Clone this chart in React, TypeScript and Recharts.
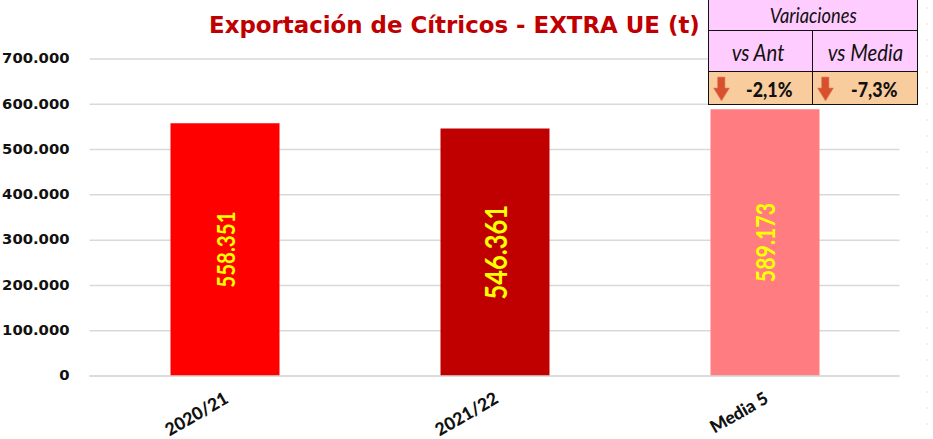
import { BarChart, Bar, CartesianGrid, Cell, LabelList, XAxis, YAxis } from "recharts";

const categories = ["2020/21", "2021/22", "Media 5"];
const values = [558351, 546361, 589173];
const barColors = ["#ff0000", "#c00000", "#ff7c80"];
const labelSizes = [25, 31, 26];
const yTicks = [0, 100000, 200000, 300000, 400000, 500000, 600000, 700000];
const variations = ["-2,1%", "-7,3%"];

const chartData = categories.map((name, i) => ({ name, value: values[i] }));

const fmt = (v: number) => v.toLocaleString("de-DE");

const AngledTick = ({ x, y, payload }: any) => (
  <text
    x={x + 5}
    y={y + 18}
    transform={`rotate(-30 ${x + 5} ${y + 18})`}
    textAnchor="end"
    fontFamily="Lato, sans-serif"
    fontWeight={900}
    fontSize={17.5}
    fill="#111"
  >
    {payload.value}
  </text>
);

const BarValue = ({ x, y, width, height, value, index }: any) => {
  const cx = x + width / 2;
  const cy = y + height / 2;
  return (
    <text
      transform={`translate(${cx} ${cy}) rotate(-90) scale(0.82 1)`}
      textAnchor="middle"
      dominantBaseline="central"
      fontFamily="Lato, sans-serif"
      fontWeight={700}
      fontSize={labelSizes[index]}
      fill="#ffff00"
    >
      {fmt(value)}
    </text>
  );
};

const DownArrow = () => (
  <svg width={17} height={26} viewBox="0 0 17 26" style={{ position: "absolute", left: 4, top: 4 }}>
    <path d="M4.5 1 H12 V12 H16.5 L8.5 25 L0.5 12 H4.5 Z" fill="#d9502e" stroke="#e08a68" strokeWidth={0.6} />
  </svg>
);

const cell: React.CSSProperties = {
  position: "absolute",
  boxSizing: "border-box",
  display: "flex",
  alignItems: "center",
  justifyContent: "center",
  color: "#111",
  fontFamily: "Lato, sans-serif",
};

const narrow = (text: string, x = 0.85) => (
  <span style={{ display: "inline-block", transform: `scaleX(${x})`, whiteSpace: "nowrap" }}>{text}</span>
);

const VariationsTable = () => (
  <div style={{ position: "absolute", left: 708, top: 0, width: 210, height: 105 }}>
    <div style={{ ...cell, left: 0, top: 0, width: 210, height: 31, background: "#ffccff", borderLeft: "1px solid #111", borderRight: "1px solid #111", borderBottom: "1px solid #111", fontSize: 21.5, fontStyle: "italic" }}>
      {narrow("Variaciones")}
    </div>
    <div style={{ ...cell, left: 0, top: 31, width: 105, height: 41, background: "#ffccff", borderLeft: "1px solid #111", borderRight: "1px solid #111", borderBottom: "1px solid #111", fontSize: 24, fontStyle: "italic", paddingRight: 4 }}>
      {narrow("vs Ant")}
    </div>
    <div style={{ ...cell, left: 105, top: 31, width: 105, height: 41, background: "#ffccff", borderRight: "1px solid #111", borderBottom: "1px solid #111", fontSize: 24, fontStyle: "italic" }}>
      {narrow("vs Media")}
    </div>
    {variations.map((v, i) => (
      <div
        key={v}
        style={{ ...cell, left: i * 105, top: 72, width: 105, height: 33, background: "#f8cc9c", borderLeft: i === 0 ? "1px solid #111" : undefined, borderRight: "1px solid #111", borderBottom: "1px solid #111", fontSize: 21, fontWeight: 900, paddingLeft: 18 }}
      >
        <DownArrow />
        {narrow(v)}
      </div>
    ))}
  </div>
);

export default function App() {
  return (
    <div style={{ position: "absolute", left: 0, top: 0, width: 933, height: 439, background: "#fff", overflow: "hidden" }}>
      <BarChart
        width={933}
        height={439}
        data={chartData}
        margin={{ top: 59, right: 33.5, bottom: 0, left: 0 }}
      >
        <CartesianGrid vertical={false} stroke="#d9d9d9" strokeWidth={1.5} />
        <XAxis
          dataKey="name"
          height={63}
          interval={0}
          tick={<AngledTick />}
          tickLine={false}
          axisLine={{ stroke: "#d9d9d9", strokeWidth: 1.5 }}
        />
        <YAxis
          width={89.5}
          domain={[0, 700000]}
          ticks={yTicks}
          tickFormatter={fmt}
          axisLine={false}
          tickLine={false}
          tickMargin={14}
          tick={{ fontFamily: "'DejaVu Sans', sans-serif", fontWeight: 700, fontSize: 14.8, fill: "#111", dy: -1 }}
        />
        <Bar dataKey="value" barSize={109} isAnimationActive={false}>
          {chartData.map((d, i) => (
            <Cell key={d.name} fill={barColors[i]} />
          ))}
          <LabelList dataKey="value" content={<BarValue />} />
        </Bar>
      </BarChart>
      <div
        style={{
          position: "absolute",
          left: 209,
          top: 12,
          whiteSpace: "nowrap",
          fontFamily: "'DejaVu Sans', sans-serif",
          fontWeight: 700,
          fontSize: 22.9,
          lineHeight: "26px",
          color: "#c00000",
        }}
      >
        Exportación de Cítricos - EXTRA UE (t)
      </div>
      <VariationsTable />
      {/* faint dotted frame edge on the right */}
      <div
        style={{
          position: "absolute",
          left: 926,
          top: 7,
          width: 2,
          height: 418,
          background: "repeating-linear-gradient(to bottom, #f2f2dc 0 2px, transparent 2px 16px)",
        }}
      />
    </div>
  );
}
